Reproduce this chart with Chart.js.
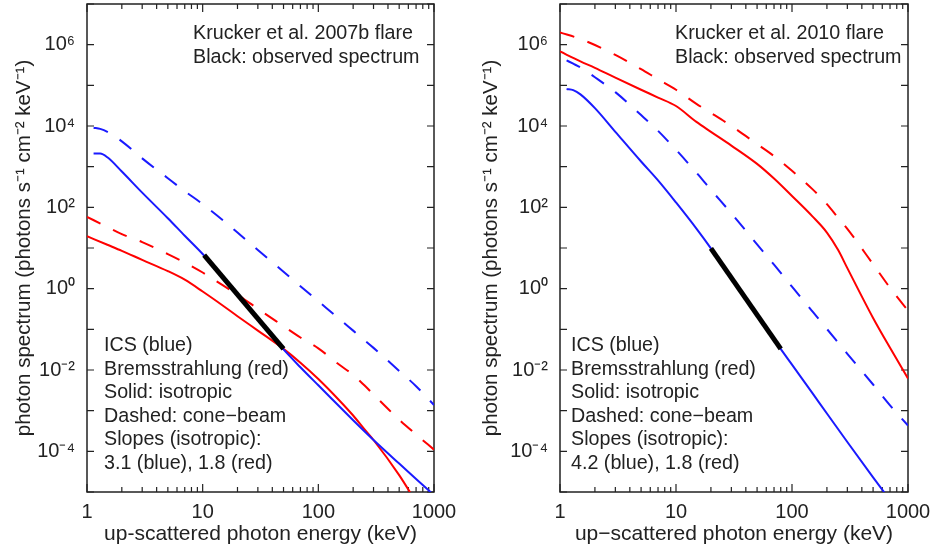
<!DOCTYPE html>
<html>
<head>
<meta charset="utf-8">
<script src="https://cdn.jsdelivr.net/npm/chart.js@4.4.1/dist/chart.umd.min.js"></script>
<style>
  body { margin: 0; background: #fff; }
  #wrap { position: relative; width: 934px; height: 552px; }
  canvas { position: absolute; top: 0; }
</style>
</head>
<body>
<div id="wrap">
  <canvas id="left" width="467" height="552" style="left:0"></canvas>
  <canvas id="right" width="467" height="552" style="left:467px"></canvas>
</div>
<script>
// photon energies (keV) the curves are sampled at
const energyBrems = [1, 1.5, 2, 3, 5, 7, 10, 15, 20, 30, 50, 70, 100, 150, 200, 250, 300, 500, 700, 1000]
const energyIcs = [1.14, 1.3, 1.5, 2, 3, 5, 7, 10, 15, 20, 30, 50, 70, 100, 150, 200, 300, 500, 700, 1000]

// Krucker et al. 2007b flare
const icsIso2007 = [2100, 2100, 1700, 760, 230, 54, 20, 7.1, 1.9, 0.72, 0.18, 0.032, 0.0117, 0.0042, 0.00132, 5.8e-4, 1.9e-4, 5.0e-5, 2.1e-5, 8.3e-6]
const icsCone2007 = [9100, 8500, 7200, 4200, 1600, 520, 250, 120, 48, 24, 8.9, 2.6, 1.15, 0.49, 0.186, 0.093, 0.035, 0.0095, 0.0040, 0.00138]
const bremIso2007 = [19.5, 12, 8.5, 5.1, 2.7, 1.66, 0.85, 0.38, 0.21, 0.093, 0.033, 0.0151, 0.0060, 0.00186, 7.6e-4, 3.5e-4, 1.9e-4, 2.6e-5, 5.6e-6, 1.0e-6]
const bremCone2007 = [58, 33, 22, 14, 7.1, 4.4, 2.5, 1.2, 0.71, 0.32, 0.12, 0.063, 0.034, 0.0138, 0.0076, 0.0042, 0.0025, 6.0e-4, 2.6e-4, 1.1e-4]
const obsEnergy2007 = [10.3, 50]
const obsFlux2007 = [6.7, 0.033]

// Krucker et al. 2010 flare
const icsIso2010 = [8.1e4, 7.6e4, 6.0e4, 2.75e4, 7200, 1340, 460, 132, 30, 9.8, 1.8, 0.22, 0.056, 0.0135, 0.0027, 8.5e-4, 1.7e-4, 2.3e-5, 6.3e-6, 1.6e-6]
const icsCone2010 = [4.1e5, 3.4e5, 2.75e5, 1.58e5, 6.8e4, 1.86e4, 7600, 2600, 710, 270, 71, 12.3, 3.9, 1.12, 0.275, 0.102, 0.025, 0.0044, 0.00135, 4.3e-4]
const bremIso2010 = [6.8e5, 3.9e5, 2.7e5, 1.55e5, 7.8e4, 5.0e4, 3.1e4, 1.26e4, 7200, 3300, 1170, 510, 190, 60, 24, 8.9, 3.2, 0.19, 0.035, 0.0062]
const bremCone2010 = [2.0e6, 1.38e6, 9.8e5, 5.6e5, 2.5e5, 1.41e5, 7.8e4, 3.5e4, 2.1e4, 1.0e4, 3600, 1820, 790, 280, 120, 55, 29.5, 4.0, 1.05, 0.29]
const obsEnergy2010 = [20, 80]
const obsFlux2010 = [9.8, 0.033]

// axes
const xTickLabels = [1, 10, 100, 1000]
const yTickLabels = [1e-4, 1e-2, 1, 1e2, 1e4, 1e6]

const FONT = '"Liberation Sans", Arial, Helvetica, sans-serif'
Chart.defaults.font.family = FONT
Chart.defaults.color = '#222'

const SUP = {'0': '⁰', '1': '¹', '2': '²', '3': '³', '4': '⁴', '5': '⁵', '6': '⁶', '7': '⁷', '8': '⁸', '9': '⁹', '-': '⁻'}
const powerLabel = v => '10' + String(Math.round(Math.log10(v))).split('').map(c => SUP[c]).join('')

function points(xs, ys) {
  return xs.map((x, i) => ({x, y: ys[i]}))
}

function curve(xs, ys, color, dashed, width) {
  return {
    data: points(xs, ys),
    showLine: true,
    borderColor: color,
    borderWidth: width || 2,
    borderDash: dashed ? [15, 14] : [],
    pointRadius: 0,
    cubicInterpolationMode: 'monotone',
  }
}

// inward ticks on all four sides and the box round the plot
const frameTicks = {
  id: 'frameTicks',
  beforeDatasetsDraw(chart) {
    const {ctx, chartArea: a, scales: {x, y}} = chart
    ctx.save()
    ctx.strokeStyle = '#222'
    ctx.lineWidth = 1.2
    ctx.beginPath()
    for (let d = 1; d <= 1000; d *= 10) {
      for (let k = 1; k <= (d === 1000 ? 1 : 9); k++) {
        const px = x.getPixelForValue(d * k)
        const len = k === 1 ? 8 : 5
        ctx.moveTo(px, a.bottom); ctx.lineTo(px, a.bottom - len)
        ctx.moveTo(px, a.top); ctx.lineTo(px, a.top + len)
      }
    }
    for (let e = -5; e <= 7; e++) {
      const py = y.getPixelForValue(Math.pow(10, e))
      ctx.moveTo(a.left, py); ctx.lineTo(a.left + 7, py)
      ctx.moveTo(a.right, py); ctx.lineTo(a.right - 7, py)
    }
    ctx.stroke()
    ctx.lineWidth = 1.5
    ctx.strokeRect(a.left, a.top, a.right - a.left, a.bottom - a.top)
    ctx.restore()
  }
}

// the two text blocks inside each panel
const notes = {
  id: 'notes',
  afterDraw(chart, args, opts) {
    const {ctx, chartArea} = chart
    ctx.save()
    ctx.font = '19.7px ' + FONT
    ctx.fillStyle = '#222'
    opts.blocks.forEach(b => {
      b.lines.forEach((t, i) => ctx.fillText(t, chartArea.left + b.dx, b.y + i * b.step))
    })
    ctx.restore()
  }
}

function makePanel(id, p) {
  return new Chart(document.getElementById(id), {
    type: 'scatter',
    data: {
      datasets: [
        curve(p.obsE, p.obsF, '#000', false, 5),
        curve(energyIcs, p.icsIso, '#1a1aff'),
        curve(energyIcs, p.icsCone, '#1a1aff', true),
        curve(energyBrems, p.bremIso, '#ff0000'),
        curve(energyBrems, p.bremCone, '#ff0000', true),
      ]
    },
    options: {
      responsive: false,
      animation: false,
      layout: {padding: {top: 4, right: p.padRight, left: 0, bottom: 0}},
      plugins: {
        legend: {display: false},
        tooltip: {enabled: false},
        notes: {blocks: p.blocks},
      },
      scales: {
        x: {
          type: 'logarithmic',
          min: 1,
          max: 1000,
          grid: {display: false, drawTicks: false},
          border: {display: false},
          afterBuildTicks: s => { s.ticks = xTickLabels.map(v => ({value: v})) },
          afterFit: s => { s.height = 60; s.paddingLeft = 0; s.paddingRight = 0 },
          ticks: {callback: v => String(v), font: {size: 20}, padding: 8, maxRotation: 0, autoSkip: false},
          title: {display: true, text: p.xTitle, font: {size: 21}, padding: {top: 0, bottom: 5}},
        },
        y: {
          type: 'logarithmic',
          min: 1e-5,
          max: 1e7,
          grid: {display: false, drawTicks: false},
          border: {display: false},
          afterBuildTicks: s => { s.ticks = yTickLabels.map(v => ({value: v})) },
          afterFit: s => { s.width = p.axisLeft; s.paddingTop = 0; s.paddingBottom = 0 },
          ticks: {callback: v => powerLabel(v), font: {size: 20}, padding: 12, autoSkip: false},
          title: {display: true, text: 'photon spectrum (photons s⁻¹ cm⁻² keV⁻¹)', font: {size: 20.5}, padding: {top: 12, bottom: 0}},
        },
      },
    },
    plugins: [frameTicks, notes],
  })
}

makePanel('left', {
  icsIso: icsIso2007, icsCone: icsCone2007, bremIso: bremIso2007, bremCone: bremCone2007,
  obsE: obsEnergy2007, obsF: obsFlux2007,
  axisLeft: 87, padRight: 33,
  xTitle: 'up-scattered photon energy (keV)',
  blocks: [
    {dx: 106, y: 39, step: 24, lines: ['Krucker et al. 2007b flare', 'Black: observed spectrum']},
    {dx: 17, y: 351, step: 23.5, lines: ['ICS (blue)', 'Bremsstrahlung (red)', 'Solid: isotropic', 'Dashed: cone−beam', 'Slopes (isotropic):', '3.1 (blue), 1.8 (red)']},
  ],
})

makePanel('right', {
  icsIso: icsIso2010, icsCone: icsCone2010, bremIso: bremIso2010, bremCone: bremCone2010,
  obsE: obsEnergy2010, obsF: obsFlux2010,
  axisLeft: 93, padRight: 26,
  xTitle: 'up−scattered photon energy (keV)',
  blocks: [
    {dx: 115, y: 39, step: 24, lines: ['Krucker et al. 2010 flare', 'Black: observed spectrum']},
    {dx: 11, y: 351, step: 23.5, lines: ['ICS (blue)', 'Bremsstrahlung (red)', 'Solid: isotropic', 'Dashed: cone−beam', 'Slopes (isotropic):', '4.2 (blue), 1.8 (red)']},
  ],
})
</script>
</body>
</html>
